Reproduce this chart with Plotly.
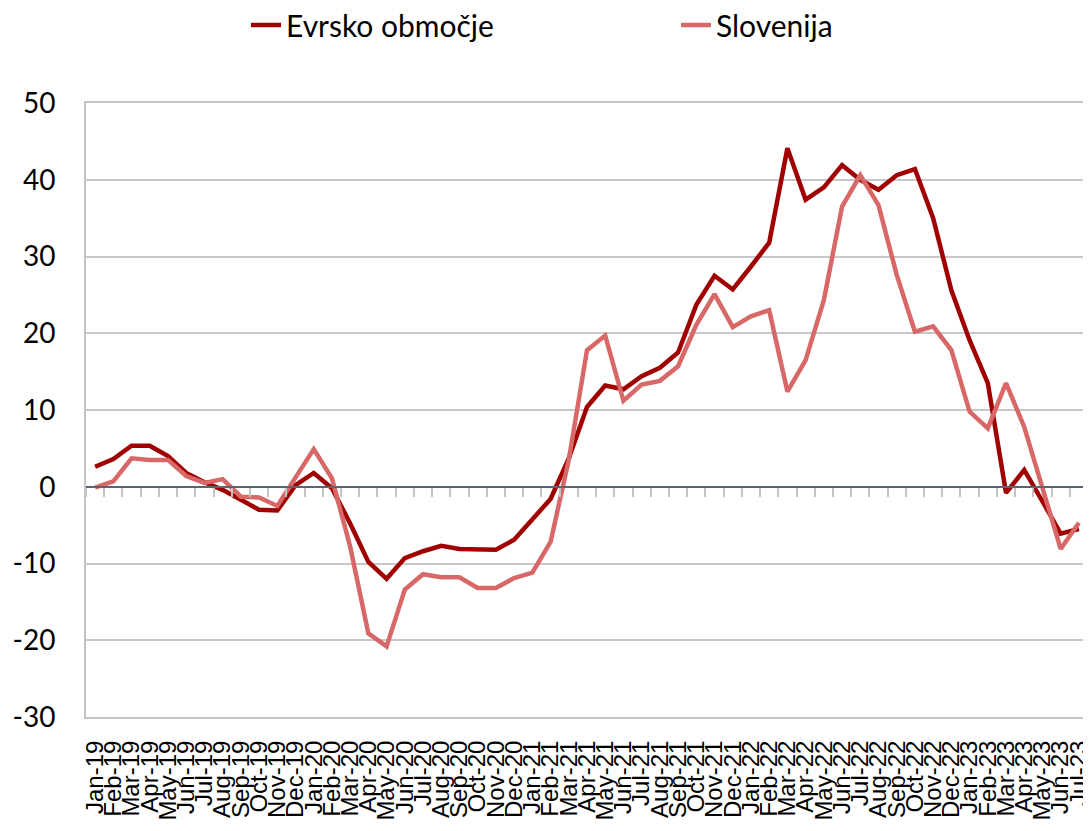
import plotly.graph_objects as go

months = ["Jan", "Feb", "Mar", "Apr", "May", "Jun", "Jul", "Aug", "Sep", "Oct", "Nov", "Dec"]
categories = [f"{m}-{y}" for y in ["19", "20", "21", "22", "23"] for m in months][:55]

evrsko = [2.6, 3.6, 5.35, 5.35, 4.0, 1.8, 0.6, -0.4, -1.7, -3.0, -3.1, 0.2,
          1.8, -0.2, -4.8, -9.8, -12.0, -9.3, -8.4, -7.7, -8.1, -8.1, -8.2, -6.9,
          -4.3, -1.6, 3.7, 10.4, 13.2, 12.7, 14.4, 15.5, 17.5, 23.7, 27.5, 25.7,
          28.7, 31.8, 44.1, 37.4, 39.0, 41.9, 40.0, 38.7, 40.6, 41.4, 35.0, 25.6,
          19.1, 13.5, -0.8, 2.2, -1.9, -6.1, -5.5]

slovenija = [-0.1, 0.7, 3.7, 3.5, 3.5, 1.4, 0.5, 1.0, -1.3, -1.4, -2.5, 1.2,
             4.9, 1.1, -7.8, -19.1, -20.8, -13.4, -11.4, -11.8, -11.8, -13.2, -13.2, -11.9,
             -11.2, -7.2, 3.5, 17.8, 19.7, 11.2, 13.3, 13.8, 15.7, 21.1, 25.1, 20.8,
             22.2, 23.0, 12.4, 16.5, 24.3, 36.5, 40.6, 36.7, 27.6, 20.2, 20.9, 17.8,
             9.8, 7.6, 13.5, 7.8, -0.2, -8.1, -4.7]

y_ticks = [-30, -20, -10, 0, 10, 20, 30, 40, 50]
y_ticktext = [str(v) for v in y_ticks]

# page body has an 8px margin, so the figure is sized/placed to compensate
OFF = 8
W, H = 1091 - OFF, 831 - OFF
ml, mr, mt, mb = 86 - OFF, 3, 103 - OFF, 114
ymin, ymax = -30, 50
zero_pos = (0 - ymin) / (ymax - ymin)
plot_w = W - ml - mr
plot_h = H - mt - mb

fig = go.Figure()
fig.add_trace(go.Scatter(x=categories, y=evrsko, mode="lines", name="Evrsko območje",
                         line=dict(color="#A00000", width=4.5)))
fig.add_trace(go.Scatter(x=categories, y=slovenija, mode="lines", name="Slovenija",
                         line=dict(color="#D86868", width=4.5)))
# helper trace to draw the category axis crossing at zero (no visible marks)
fig.add_trace(go.Scatter(x=categories, y=[None] * len(categories), xaxis="x2",
                         mode="lines", showlegend=False, hoverinfo="skip"))

fig.update_layout(
    width=W, height=H,
    margin=dict(l=ml, r=mr, t=mt, b=mb, autoexpand=False),
    paper_bgcolor="white", plot_bgcolor="white",
    showlegend=True,
    legend=dict(orientation="h", x=(246 - 86) / plot_w, xanchor="left",
                y=1 + (103 - 25) / plot_h, yanchor="middle",
                font=dict(family="Lato", size=30, color="black"),
                entrywidth=385, bgcolor="rgba(0,0,0,0)"),
    xaxis=dict(type="category", range=[-0.5, 54.5], tickangle=-90,
               tickmode="array", tickvals=categories, ticktext=categories,
               tickfont=dict(family="Liberation Sans", size=24, color="black"),
               showgrid=False, ticks="", showline=True, mirror=True, automargin=False,
               linecolor="#C4C4C4", linewidth=2, zeroline=False, ticklabelstandoff=12),
    xaxis2=dict(type="category", overlaying="x", matches="x", anchor="free",
                position=zero_pos, side="bottom", showticklabels=False,
                showline=True, linecolor="#5B6470", linewidth=2, automargin=False,
                ticks="outside", tickson="boundaries", ticklen=9,
                tickcolor="#C4C4C4", tickwidth=2, showgrid=False, zeroline=False),
    yaxis=dict(range=[ymin, ymax], tickvals=y_ticks, ticktext=y_ticktext,
               tickfont=dict(family="Lato", size=28, color="black"),
               showgrid=True, gridcolor="#C8C8C8", gridwidth=2, automargin=False,
               showline=True, mirror=True, linecolor="#C4C4C4", linewidth=2,
               zeroline=False, ticks="", ticklabelstandoff=23),
)

fig.write_html("out.html")
